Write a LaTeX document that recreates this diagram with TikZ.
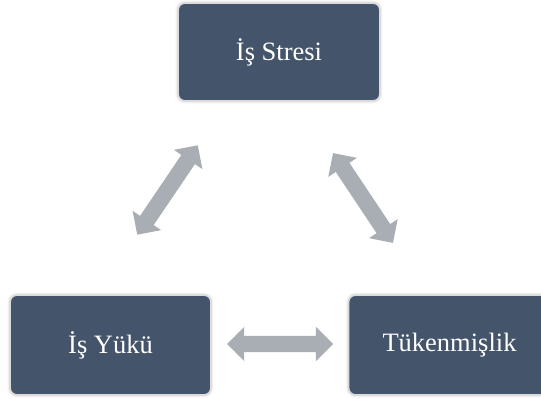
\documentclass[tikz,border=0pt]{standalone}
\usepackage{fontspec}
\setmainfont{Liberation Serif}
\usetikzlibrary{shapes.arrows,shadows.blur}
\definecolor{boxfill}{HTML}{44546A}
\definecolor{boxedge}{HTML}{DCDCDC}
\definecolor{arrowgray}{HTML}{A9ADB4}
\begin{document}
\begin{tikzpicture}[x=1pt,y=1pt,
  box/.style={draw=boxedge, line width=1.8pt, fill=boxfill, rounded corners=7pt,
    text=white, font=\fontsize{26.5}{29}\selectfont, inner sep=0pt,
    blur shadow={shadow xshift=0pt, shadow yshift=0pt, shadow blur radius=3pt, shadow opacity=25}},
  dblarrow/.style={double arrow, fill=arrowgray, draw=none, inner xsep=0pt, inner ysep=8pt,
    double arrow head extend=9pt, double arrow tip angle=90,
    minimum height=#1},
]
\useasboundingbox (0,0) rectangle (541,399);
\node[box, minimum width=202pt, minimum height=98pt] (stres) at (279,347) {İş Stresi};
\node[box, minimum width=201pt, minimum height=100pt] (yuk) at (110.5,54) {İş Yükü};
\node[box, minimum width=202pt, minimum height=100pt] (tuken) at (449.5,54) {Tükenmişlik};
\node[dblarrow=108pt, rotate=55.9] (a1) at (167.5,209) {};
\node[dblarrow=108pt, rotate=-56.3] (a2) at (363,201) {};
\node[dblarrow=106pt] (a3) at (280,55) {};
\end{tikzpicture}
\end{document}
